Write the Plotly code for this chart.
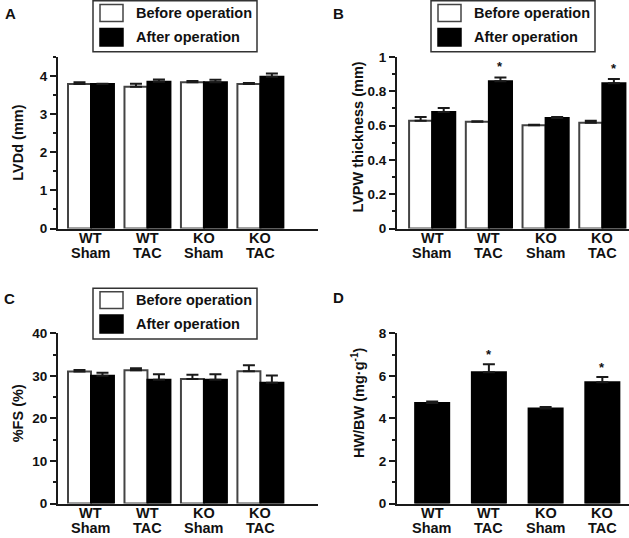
import plotly.graph_objects as go

W, H = 629, 538

# ---------------- data ----------------
line1 = ["WT", "WT", "KO", "KO"]
line2 = ["Sham", "TAC", "Sham", "TAC"]
cats = [0, 1, 2, 3]

lvdd_before = [3.79, 3.72, 3.84, 3.79]
lvdd_before_err = [0.05, 0.08, 0.03, 0.03]
lvdd_after = [3.79, 3.85, 3.84, 3.98]
lvdd_after_err = [0.01, 0.06, 0.06, 0.09]

lvpw_before = [0.628, 0.622, 0.602, 0.616]
lvpw_before_err = [0.022, 0.004, 0.003, 0.012]
lvpw_after = [0.680, 0.859, 0.645, 0.847]
lvpw_after_err = [0.022, 0.022, 0.005, 0.024]

fs_before = [31.05, 31.3, 29.25, 31.1]
fs_before_err = [0.35, 0.5, 1.0, 1.4]
fs_after = [30.0, 29.1, 29.1, 28.4]
fs_after_err = [0.7, 1.3, 1.3, 1.7]

hwbw = [4.72, 6.17, 4.46, 5.70]
hwbw_err = [0.07, 0.38, 0.08, 0.25]

lvpw_sig = [False, True, False, True]
hwbw_sig = [False, True, False, True]

legend_labels = ["Before operation", "After operation"]
panel_letters = ["A", "B", "C", "D"]
y_titles = ["LVDd (mm)", "LVPW thickness (mm)", "%FS (%)", "HW/BW (mg·g<sup>-1</sup>)"]

# ---------------- style ----------------
FONT = "Liberation Sans, Arial, Helvetica, sans-serif"
TXT = "#111111"
AX = "#1a1a1a"
OUTL = "#444444"


def px(x):
    return x / W


def py(y):
    return 1 - y / H


fig = go.Figure()


def add_pair(before, berr, after, aerr, xa, ya):
    fig.add_trace(go.Bar(
        x=cats, y=before, xaxis=xa, yaxis=ya, showlegend=False,
        marker=dict(color="white", line=dict(color=OUTL, width=2)),
        error_y=dict(type="data", symmetric=False, array=berr,
                     arrayminus=[0] * len(berr), color=AX, thickness=2, width=6),
    ))
    fig.add_trace(go.Bar(
        x=cats, y=after, xaxis=xa, yaxis=ya, showlegend=False,
        marker=dict(color="black", line=dict(color="black", width=2)),
        error_y=dict(type="data", symmetric=False, array=aerr,
                     arrayminus=[0] * len(aerr), color=AX, thickness=2, width=6),
    ))


add_pair(lvdd_before, lvdd_before_err, lvdd_after, lvdd_after_err, "x", "y")
add_pair(lvpw_before, lvpw_before_err, lvpw_after, lvpw_after_err, "x2", "y2")
add_pair(fs_before, fs_before_err, fs_after, fs_after_err, "x3", "y3")
fig.add_trace(go.Bar(
    x=cats, y=hwbw, xaxis="x4", yaxis="y4", showlegend=False, width=0.6,
    marker=dict(color="black", line=dict(color="black", width=2)),
    error_y=dict(type="data", symmetric=False, array=hwbw_err,
                 arrayminus=[0] * len(hwbw_err), color=AX, thickness=2, width=6),
))

BARGAP = 0.186
half = (1 - BARGAP) / 4  # centre offset of the "after" bar in a pair

top_dom = [py(228.5), py(57)]
bot_dom = [py(503.5), py(333.3)]
left_x = [px(58), px(318)]
right_x = [px(397), px(629)]

tickfont = dict(family=FONT, size=13.5, color=TXT, weight="bold")


def xax(dom, anchor, rng):
    return dict(domain=dom, anchor=anchor, range=rng, showticklabels=False,
                ticks="", showline=True, linewidth=2, linecolor=AX,
                showgrid=False, zeroline=False, fixedrange=True, automargin=False)


def yax(dom, anchor, rng, dtick, mdtick):
    return dict(domain=dom, anchor=anchor, range=rng, dtick=dtick, tick0=0,
                ticks="outside", ticklen=6, tickwidth=2, tickcolor=AX,
                showline=True, linewidth=2, linecolor=AX, showgrid=False,
                zeroline=False, tickfont=tickfont, automargin=False, fixedrange=True,
                minor=dict(dtick=mdtick, tick0=0, ticks="outside", ticklen=3,
                           tickwidth=2, tickcolor=AX, showgrid=False))


annotations = []
shapes = []

# category labels under each x axis
for xa, ya in [("x", "y"), ("x2", "y2"), ("x3", "y3"), ("x4", "y4")]:
    for i, c in enumerate(cats):
        for txt, shift in [(line1[i], -9.5), (line2[i], -24.5)]:
            annotations.append(dict(
                x=c, xref=xa, y=0, yref=ya + " domain", yanchor="middle",
                yshift=shift, text=txt, showarrow=False,
                font=dict(family=FONT, size=14.5, color=TXT, weight="bold")))

# significance asterisks
for i, c in enumerate(cats):
    if lvpw_sig[i]:
        annotations.append(dict(
            x=c + half, xref="x2", y=lvpw_after[i] + lvpw_after_err[i], yref="y2",
            yanchor="bottom", yshift=1, text="*", showarrow=False,
            font=dict(family=FONT, size=13, color=TXT, weight="bold")))
    if hwbw_sig[i]:
        annotations.append(dict(
            x=c, xref="x4", y=hwbw[i] + hwbw_err[i], yref="y4",
            yanchor="bottom", yshift=0, text="*", showarrow=False,
            font=dict(family=FONT, size=13, color=TXT, weight="bold")))

# y-axis titles
for ya, t, xpos, yfrac in [("y", y_titles[0], 18, 0.50), ("y2", y_titles[1], 358, 0.53),
                           ("y3", y_titles[2], 18, 0.53), ("y4", y_titles[3], 358, 0.59)]:
    annotations.append(dict(
        x=px(xpos), xref="paper", y=yfrac, yref=ya + " domain", textangle=-90,
        xanchor="center", yanchor="middle", text=t, showarrow=False,
        font=dict(family=FONT, size=14.5, color=TXT, weight="bold")))

# panel letters
for letter, (lx, ly) in zip(panel_letters, [(3, 13), (331, 13), (2, 298), (331, 297.5)]):
    annotations.append(dict(
        x=px(lx), xref="paper", y=py(ly), yref="paper", xanchor="left",
        yanchor="middle", text=letter, showarrow=False,
        font=dict(family=FONT, size=15, color=TXT, weight="bold")))

# legend boxes (panels A, B, C)
for (bx0, bx1, by0, by1, sx, tx, s1, s2) in [
        (93, 257, 0.8, 51.7, 100, 134, (4.5, 21.5), (28.5, 46)),
        (431, 595, 0.8, 51.7, 438, 472, (4.5, 21.5), (28.5, 46)),
        (93, 257, 288.3, 339, 100, 134, (291.7, 308.5), (315, 333))]:
    shapes.append(dict(type="rect", xref="paper", yref="paper",
                       x0=px(bx0), x1=px(bx1), y0=py(by1), y1=py(by0),
                       line=dict(color="#333333", width=1.5), fillcolor="white"))
    shapes.append(dict(type="rect", xref="paper", yref="paper",
                       x0=px(sx), x1=px(sx + 23), y0=py(s1[1]), y1=py(s1[0]),
                       line=dict(color=OUTL, width=1.5), fillcolor="white"))
    shapes.append(dict(type="rect", xref="paper", yref="paper",
                       x0=px(sx), x1=px(sx + 23), y0=py(s2[1]), y1=py(s2[0]),
                       line=dict(color="black", width=1.5), fillcolor="black"))
    for lab, (a, b) in zip(legend_labels, [s1, s2]):
        annotations.append(dict(
            x=px(tx), xref="paper", y=py((a + b) / 2), yref="paper",
            xanchor="left", yanchor="middle", text=lab, showarrow=False,
            font=dict(family=FONT, size=14.5, color=TXT, weight="bold")))

fig.update_layout(
    template="none",
    width=W, height=H, margin=dict(l=0, r=0, t=0, b=0, pad=0, autoexpand=False),
    paper_bgcolor="white", plot_bgcolor="white",
    barmode="group", bargap=BARGAP, bargroupgap=0,
    showlegend=False, hovermode=False,
    font=dict(family=FONT, color=TXT),
    xaxis=xax(left_x, "y", [-0.584, 4.02]),
    yaxis=yax(top_dom, "x", [0, 4.5], 1, 0.5),
    xaxis2=xax(right_x, "y2", [-0.62, 3.47]),
    yaxis2=yax(top_dom, "x2", [0, 1], 0.2, 0.1),
    xaxis3=xax(left_x, "y3", [-0.584, 4.02]),
    yaxis3=yax(bot_dom, "x3", [0, 40], 10, 5),
    xaxis4=xax(right_x, "y4", [-0.62, 3.47]),
    yaxis4=yax(bot_dom, "x4", [0, 8], 2, 1),
    annotations=annotations,
    shapes=shapes,
)

fig.write_html(
    "out.html",
    config={"displayModeBar": False, "responsive": False},
    post_script="document.body.style.margin='0px';document.body.style.overflow='hidden';",
)
